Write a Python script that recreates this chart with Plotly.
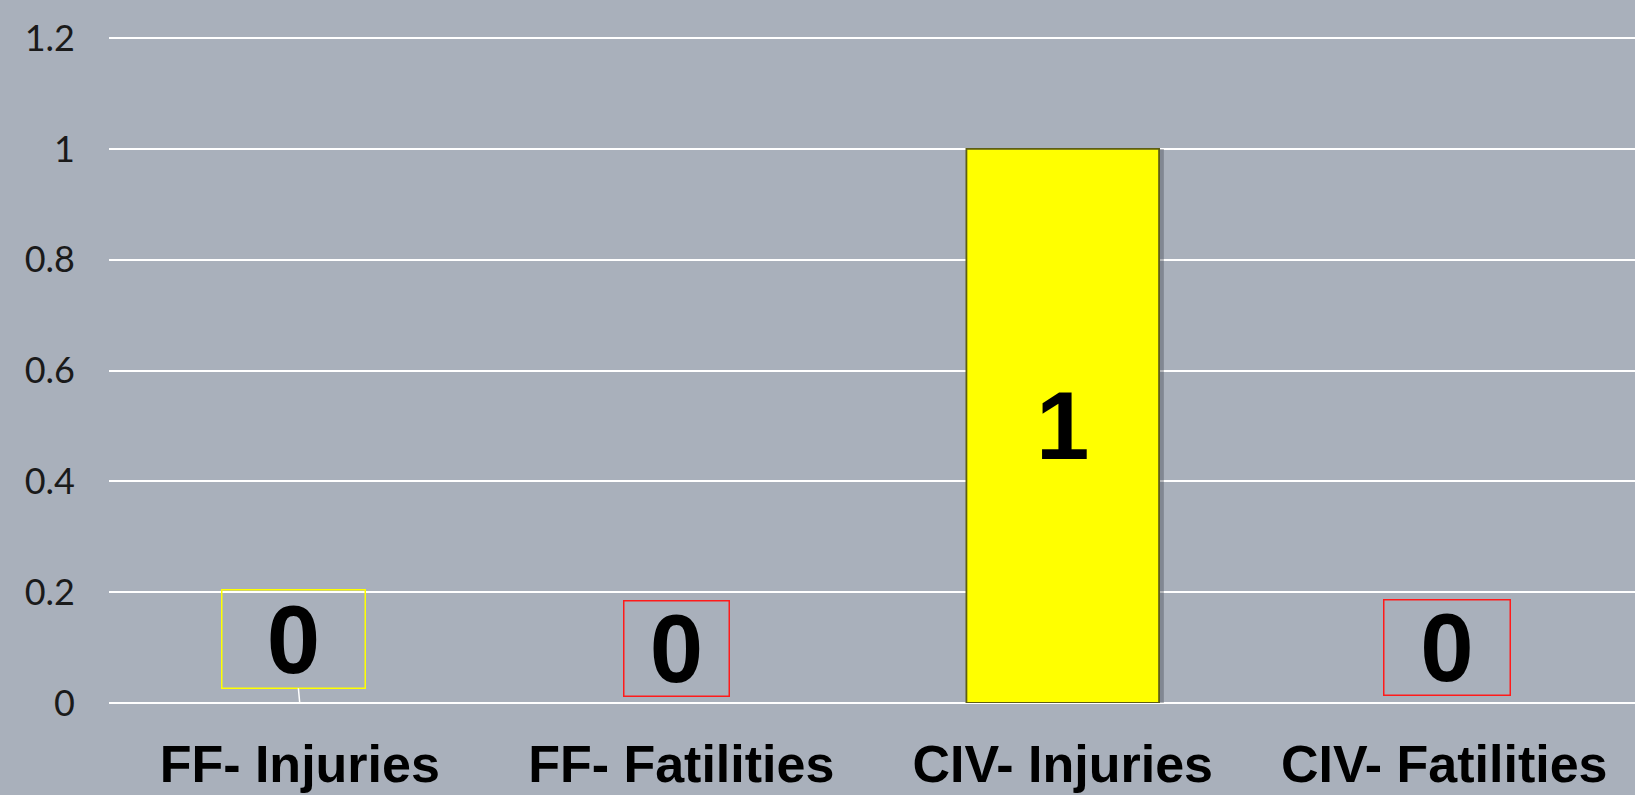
import plotly.graph_objects as go

# ---- data ----
categories = ["FF- Injuries", "FF- Fatilities", "CIV- Injuries", "CIV- Fatilities"]
values = [0, 0, 1, 0]
y_ticks = [0, 0.2, 0.4, 0.6, 0.8, 1, 1.2]
y_tick_labels = ["0", "0.2", "0.4", "0.6", "0.8", "1", "1.2"]

# ---- styles ----
bar_colors = ["#FFFF00", "#FF0000", "#FFFF00", "#FF0000"]
box_colors = ["#FFFF00", "#FF1A1A", "#FFFF00", "#FF1A1A"]
BG = "#A9B0BB"
BOLD_FONT = "Liberation Sans, Arial, sans-serif"

fig = go.Figure()

# subtle drop shadow behind bars
fig.add_trace(go.Bar(
    x=categories, y=values,
    marker=dict(color="rgba(70,75,85,0.4)", line=dict(width=0)),
    width=0.512, offset=-0.247,
    hoverinfo="skip", showlegend=False,
))

fig.add_trace(go.Bar(
    x=categories, y=values,
    marker=dict(color=bar_colors,
                line=dict(color="#5E5E14", width=[1.8 if v > 0 else 0 for v in values])),
    width=0.505,
    text=[str(v) if v > 0 else "" for v in values],
    textposition="inside",
    insidetextanchor="middle",
    textangle=0,
    constraintext="none",
    textfont=dict(family=BOLD_FONT, size=96, color="black", weight="bold"),
    showlegend=False,
))

# data labels for the zero values (boxed, offset above the baseline)
label_layout = {
    0: dict(xs=-6, ys=64, w=142, h=97, arrow=True),
    1: dict(xs=-4.5, ys=55, w=104, h=94, arrow=False),
    3: dict(xs=2.4, ys=56, w=125, h=94, arrow=False),
}
for i, (cat, v) in enumerate(zip(categories, values)):
    if v != 0:
        continue
    L = label_layout[i]
    common = dict(
        x=cat, y=v, xref="x", yref="y",
        text=str(v),
        font=dict(family=BOLD_FONT, size=96, color="black", weight="bold"),
        bordercolor=box_colors[i], borderwidth=1.5, borderpad=0,
        width=L["w"], height=L["h"], valign="middle", align="center",
    )
    if L["arrow"]:
        fig.add_annotation(**common, showarrow=True, arrowhead=0, arrowwidth=1.5,
                           arrowcolor="white", ax=L["xs"], ay=-L["ys"])
    else:
        fig.add_annotation(**common, showarrow=False, xshift=L["xs"], yshift=L["ys"])

fig.update_layout(
    width=1635, height=795,
    paper_bgcolor=BG, plot_bgcolor=BG,
    margin=dict(l=109, r=0, t=37, b=92),
    barmode="overlay",
    showlegend=False,
)

fig.update_xaxes(
    type="category",
    showgrid=False, zeroline=False, showline=False,
    tickfont=dict(family=BOLD_FONT, size=52, color="black", weight="bold"),
    ticklabelstandoff=26,
)
fig.update_yaxes(
    range=[0, 1.202],
    tickvals=y_ticks, ticktext=y_tick_labels,
    showgrid=True, gridcolor="white", gridwidth=1.5,
    zeroline=True, zerolinecolor="white", zerolinewidth=1.5,
    showline=False,
    tickfont=dict(family="Lato, sans-serif", size=36, color="#1a1a1a"),
    ticklabelstandoff=33,
)

fig.write_html(
    "out.html",
    config={"displayModeBar": False},
    post_script="document.body.style.margin='0';document.body.style.overflow='hidden';",
)
